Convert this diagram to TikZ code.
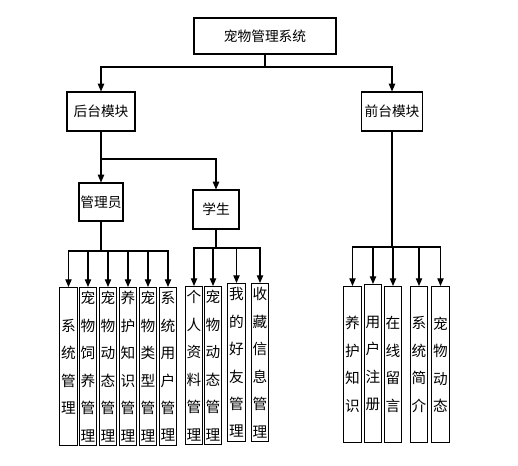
\documentclass[tikz,border=0pt]{standalone}
\usepackage{fontspec}
\newfontfamily\cjk{Noto Sans CJK SC}
\usetikzlibrary{arrows.meta}
\begin{document}
\begin{tikzpicture}[x=0.75pt,y=-0.75pt,
 box/.style={draw,line width=0.8pt,inner sep=0pt,font=\cjk\fontsize{10.3}{12}\selectfont},
 leaf/.style={draw,line width=0.8pt,inner sep=0pt,anchor=north,minimum width=13.1pt,minimum height=118.5pt,align=center,font=\cjk\fontsize{11}{20.6}\selectfont},
 arr/.style={line width=0.8pt,-{Triangle[length=5.8pt,width=4.8pt]}},
 ln/.style={line width=0.8pt}]
\useasboundingbox (0,0) rectangle (518,466);
\fill[white] (0,0) rectangle (518,466);
% main boxes
\node[box,minimum width=106.5pt,minimum height=27pt] (title) at (265,36) {宠物管理系统};
\node[box,minimum width=51pt,minimum height=29.25pt] (back) at (101,111.5) {后台模块};
\node[box,minimum width=45.75pt,minimum height=29.25pt] (front) at (392,111.5) {前台模块};
\node[box,minimum width=33pt,minimum height=28.5pt] (adm) at (101,202) {管理员};
\node[box,minimum width=34.5pt,minimum height=29.25pt] (stu) at (216,209.5) {学生};
% bus coordinates
\coordinate (bus0) at (0,67);
\coordinate (bus1) at (0,159);
\coordinate (bus2) at (0,251);
\coordinate (bus3) at (0,248);
\coordinate (bus4) at (0,247);
% admin leaves
\node[leaf] (a1) at (68.5,287) {系\\统\\管\\理};
\node[leaf] (a2) at (88,287) {宠\\物\\饲\\养\\管\\理};
\node[leaf] (a3) at (108,287) {宠\\物\\动\\态\\管\\理};
\node[leaf] (a4) at (128,287) {养\\护\\知\\识\\管\\理};
\node[leaf] (a5) at (148,287) {宠\\物\\类\\型\\管\\理};
\node[leaf] (a6) at (168,287) {系\\统\\用\\户\\管\\理};
% student leaves
\node[leaf] (s1) at (194,286) {个\\人\\资\\料\\管\\理};
\node[leaf] (s2) at (213,286) {宠\\物\\动\\态\\管\\理};
\node[leaf] (s3) at (236.5,283) {我\\的\\好\\友\\管\\理};
\node[leaf] (s4) at (260,283) {收\\藏\\信\\息\\管\\理};
% front leaves
\node[leaf,minimum height=117pt] (f1) at (352.5,286) {养\\护\\知\\识};
\node[leaf,minimum height=118.5pt] (f2) at (373,284) {用\\户\\注\\册};
\node[leaf,minimum height=117pt] (f3) at (393,286) {在\\线\\留\\言};
\node[leaf,minimum height=117pt] (f4) at (419,286) {系\\统\\简\\介};
\node[leaf,minimum height=117pt] (f5) at (440.5,286) {宠\\物\\动\\态};
% connectors
\draw[arr] (title.south) -- (title.south |- bus0) -| (back.north);
\draw[arr] (title.south) -- (title.south |- bus0) -| (front.north);
\draw[arr] (back.south) -- (back.south |- bus1) -| (adm.north);
\draw[arr] (back.south) -- (back.south |- bus1) -| (stu.north);
\foreach \n in {a1,a2,a3,a4,a5,a6}
  \draw[arr] (adm.south) -- (adm.south |- bus2) -| (\n.north);
\foreach \n in {s1,s2,s3,s4}
  \draw[arr] (stu.south) -- (stu.south |- bus3) -| (\n.north);
\foreach \n in {f1,f2,f3,f4,f5}
  \draw[arr] (front.south) -- (front.south |- bus4) -| (\n.north);
\end{tikzpicture}
\end{document}
